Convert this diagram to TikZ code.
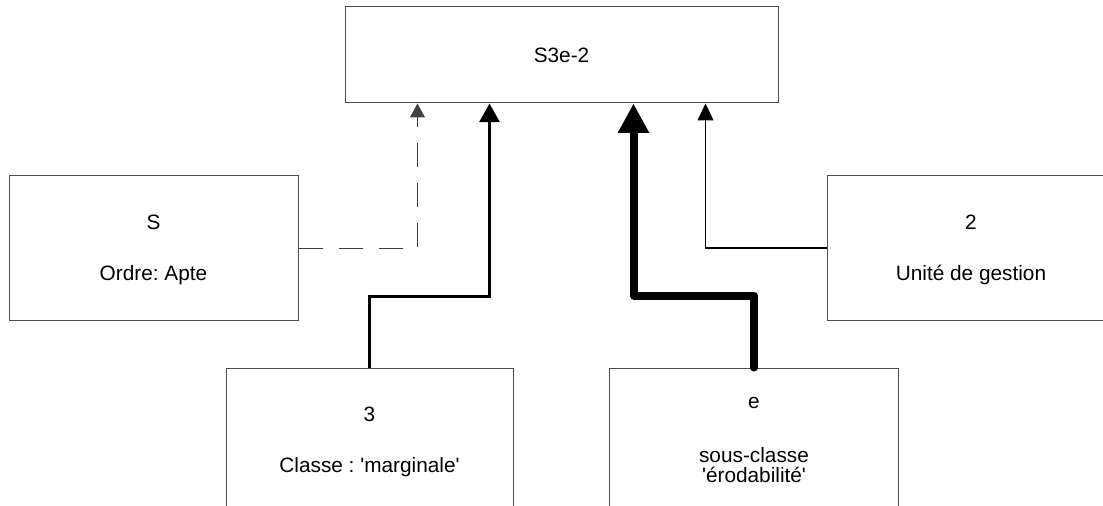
\documentclass[tikz,border=0pt]{standalone}
\usepackage{fontspec}
\setmainfont{Liberation Sans}
\usetikzlibrary{arrows.meta}
\frenchspacing
\begin{document}
\begin{tikzpicture}[x=0.75pt,y=-0.75pt,
  box/.style={draw=black!70, line width=0.75pt, inner sep=0pt, minimum width=216.75pt, minimum height=108pt},
  lbl/.style={anchor=base, inner sep=0pt, font=\fontsize{15.6}{18}\selectfont}]
\useasboundingbox (0,0) rectangle (1103,506);
% boxes
\node[box, minimum width=324.75pt, minimum height=72pt] (top) at (561.5,55) {};
\node[box] (sbox) at (153.5,248) {};
\node[box] (ubox) at (971.5,248) {};
\node[box, minimum width=215.25pt] (cbox) at (369.5,440) {};
\node[box] (ebox) at (754,440) {};
% texts
\node[lbl] (t0) at (561.5,63) {S3e-2};
\node[lbl] (t1) at (153.5,229) {S};
\node[lbl] (t2) at (153.5,280) {Ordre: Apte};
\node[lbl] (t3) at (971,229) {2};
\node[lbl] (t4) at (971,280) {Unité de gestion};
\node[lbl] (t5) at (369.5,421) {3};
\node[lbl] (t6) at (369.5,472) {Classe : \textquotesingle marginale\textquotesingle};
\node[lbl] (t7) at (754,408) {e};
\node[lbl] (t8) at (754,462) {sous-classe};
\node[lbl] (t9) at (754,482) {\textquotesingle érodabilité\textquotesingle};
% connectors
\draw[black!75, line width=0.75pt, dash pattern=on 18pt off 12pt,
      -{Triangle[width=11.25pt,length=10.5pt]}]
  (sbox.east) -| ([xshift=-108pt]top.south);
\draw[line width=2.25pt, -{Triangle[width=15pt,length=14pt]}]
  (cbox.north) -- ++(0,-71) -| ([xshift=-54pt]top.south);
\draw[line width=6pt, line join=round, line cap=round, -{Triangle[width=22pt,length=22pt]}]
  (ebox.north) -- ++(0,-72) -| ([xshift=54pt]top.south);
\draw[line width=1pt, -{Triangle[width=12pt,length=12.75pt]}]
  (ubox.west) -| ([xshift=108pt]top.south);
\end{tikzpicture}
\end{document}
